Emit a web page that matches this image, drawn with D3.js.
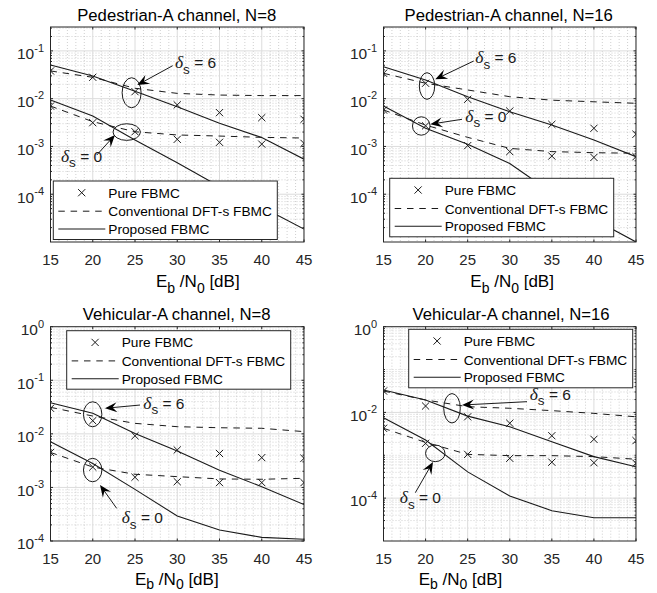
<!DOCTYPE html>
<html lang="en">
<head>
	<meta charset="utf-8">
	<title>ber_fbmc</title>
	<script src="https://cdn.jsdelivr.net/npm/d3@7"></script>
	<style>
		body { margin: 0; background: #fff; }
		svg { display: block; font-family: "Liberation Sans", Arial, sans-serif; }
	</style>
</head>
<body>
<script>
	// Eb/N0 points (dB)
	const snr = [15, 20, 25, 30, 35, 40, 45];
	const xTicks = [15, 20, 25, 30, 35, 40, 45];

	// Pedestrian-A, N=8
	const pa8Pure6 = [0.038, 0.028, 0.014, 0.0074, 0.0051, 0.0040, 0.0037];
	const pa8Conv6 = [0.038, 0.028, 0.0165, 0.0129, 0.0119, 0.0116, 0.0116];
	const pa8Prop6 = [0.0507, 0.0298, 0.0143, 0.0068, 0.00305, 0.00154, 0.00054];
	const pa8Pure0 = [0.0070, 0.00314, 0.00203, 0.00141, 0.00122, 0.00112, 0.00116];
	const pa8Conv0 = [0.0070, 0.0033, 0.00203, 0.00174, 0.00165, 0.00155, 0.0015];
	const pa8Prop0 = [0.0094, 0.00434, 0.00136, 0.000457, 0.000145, 0.000054, 0.0000186];

	// Pedestrian-A, N=16
	const pa16Pure6 = [0.034, 0.021, 0.0097, 0.0055, 0.0029, 0.0024, 0.0018];
	const pa16Conv6 = [0.034, 0.021, 0.0152, 0.011, 0.0093, 0.0086, 0.0080];
	const pa16Prop6 = [0.0467, 0.0245, 0.011, 0.0053, 0.0028, 0.00136, 0.00061];
	const pa16Pure0 = [0.0058, 0.0027, 0.00104, 0.00078, 0.00063, 0.00059, 0.00061];
	const pa16Conv0 = [0.0058, 0.0028, 0.00155, 0.00091, 0.00078, 0.00074, 0.00072];
	const pa16Prop0 = [0.0070, 0.0024, 0.00111, 0.00044, 0.000107, 0.00003, 0.00001];

	// Vehicular-A, N=8
	const va8Pure6 = [0.030, 0.0176, 0.0092, 0.0050, 0.0043, 0.0036, 0.0035];
	const va8Conv6 = [0.0313, 0.0215, 0.0157, 0.0136, 0.013, 0.0127, 0.011];
	const va8Prop6 = [0.038, 0.0242, 0.0102, 0.0048, 0.0021, 0.00103, 0.00048];
	const va8Pure0 = [0.0045, 0.0024, 0.00155, 0.00128, 0.00123, 0.00123, 0.00123];
	const va8Conv0 = [0.0045, 0.0024, 0.00176, 0.00159, 0.00144, 0.00142, 0.00148];
	const va8Prop0 = [0.0071, 0.0028, 0.00092, 0.000293, 0.00016, 0.000117, 0.000108];

	// Vehicular-A, N=16
	const va16Pure6 = [0.0316, 0.0141, 0.0079, 0.0056, 0.00286, 0.00236, 0.0022];
	const va16Conv6 = [0.0316, 0.0195, 0.0136, 0.0125, 0.011, 0.0095, 0.0079];
	const va16Prop6 = [0.0334, 0.0195, 0.0082, 0.00464, 0.00208, 0.00093, 0.00054];
	const va16Pure0 = [0.00426, 0.0019, 0.00105, 0.00085, 0.00069, 0.00067, 0.00065];
	const va16Conv0 = [0.00426, 0.0020, 0.00105, 0.00098, 0.00098, 0.00093, 0.00081];
	const va16Prop0 = [0.0075, 0.00228, 0.00041, 0.000112, 0.000051, 0.000035, 0.000035];

	const legendLabels = ["Pure FBMC", "Conventional DFT-s FBMC", "Proposed FBMC"];

	const width = 657;
	const height = 593;
	const ink = "#262626";

	const svg = d3.select("body")
		.append("svg")
		.attr("width", width)
		.attr("height", height);

	const panels = [
		{
			title: "Pedestrian-A channel, N=8",
			box: [50.5, 27, 304, 242],
			yDomain: [1e-5, Math.pow(10, -0.5)],
			yLabels: [-1, -2, -3, -4],
			pure: [pa8Pure6, pa8Pure0], conv: [pa8Conv6, pa8Conv0], prop: [pa8Prop6, pa8Prop0],
			legend: [53.3, 181],
			titleX: 176.7, xlabelX: 156, xlabelGap: 45, subShift: 6,
			notes: [
				{ s: "6", c: [24.6, 0.0133], rx: 9.5, ry: 15, from: [29.46, 0.049], to: [25.27, 0.0193], text: [29.73, 0.0438] },
				{ s: "0", c: [24.02, 0.0020], rx: 13.7, ry: 8.3, from: [20.47, 0.00066], to: [22.63, 0.00174], text: [16.24, 0.00048] }
			]
		},
		{
			title: "Pedestrian-A channel, N=16",
			box: [383.5, 27, 636, 242],
			yDomain: [1e-5, Math.pow(10, -0.5)],
			yLabels: [-1, -2, -3, -4],
			pure: [pa16Pure6, pa16Pure0], conv: [pa16Conv6, pa16Conv0], prop: [pa16Prop6, pa16Prop0],
			legend: [389.7, 178.3],
			titleX: 508.7, xlabelX: 470.3, xlabelGap: 45, subShift: 6,
			notes: [
				{ s: "6", c: [20.17, 0.0184], rx: 7.7, ry: 13.3, from: [25.72, 0.0614], to: [21.15, 0.0254], text: [25.9, 0.0557] },
				{ s: "0", c: [19.49, 0.00268], rx: 8.8, ry: 9.2, from: [24.33, 0.0037], to: [20.56, 0.00292], text: [24.72, 0.0033] }
			]
		},
		{
			title: "Vehicular-A channel, N=8",
			box: [50.5, 326.7, 304, 541],
			yDomain: [1e-4, 1],
			yLabels: [0, -1, -2, -3, -4],
			pure: [va8Pure6, va8Pure0], conv: [va8Conv6, va8Conv0], prop: [va8Prop6, va8Prop0],
			legend: [66.7, 330.7],
			titleX: 176.7, xlabelX: 135, xlabelGap: 43.5, subShift: 4,
			notes: [
				{ s: "6", c: [19.99, 0.0232], rx: 9.2, ry: 12.5, from: [25.59, 0.0345], to: [21.45, 0.030], text: [25.98, 0.0291] },
				{ s: "0", c: [19.99, 0.00211], rx: 9.2, ry: 11.7, from: [22.83, 0.000407], to: [20.86, 0.00111], text: [23.43, 0.000214] }
			]
		},
		{
			title: "Vehicular-A channel, N=16",
			box: [383.5, 326.7, 636, 541],
			yDomain: [1e-5, 1],
			yLabels: [0, -2, -4],
			pure: [va16Pure6, va16Pure0], conv: [va16Conv6, va16Conv0], prop: [va16Prop6, va16Prop0],
			legend: [408.7, 329.3],
			titleX: 511, xlabelX: 418.7, xlabelGap: 43.5, subShift: 4,
			notes: [
				{ s: "6", c: [23.14, 0.0125], rx: 8.3, ry: 14.7, from: [32.05, 0.0178], to: [24.33, 0.0149], text: [32.37, 0.0195] },
				{ s: "0", c: [21.15, 0.00111], rx: 9.7, ry: 8.3, from: [18.78, 0.000134], to: [20.88, 0.000697], text: [16.93, 0.000076] }
			]
		}
	];

	panels.forEach(drawPanel);

	function drawPanel(p) {
		const [x0, y0, x1, y1] = p.box;
		const x = d3.scaleLinear().domain([15, 45]).range([x0, x1]);
		const y = d3.scaleLog().domain(p.yDomain).range([y1, y0]);
		const g = svg.append("g");

		const clipId = "clip" + Math.round(x0) + "_" + Math.round(y0);
		g.append("clipPath").attr("id", clipId)
			.append("rect").attr("x", x0).attr("y", y0).attr("width", x1 - x0).attr("height", y1 - y0);

		// decades in range
		const lo = Math.round(Math.log10(p.yDomain[0]));
		const hi = Math.ceil(Math.log10(p.yDomain[1]));
		const minorY = [];
		const majorY = [];
		for (let e = lo; e <= hi; e++) {
			if (p.yLabels.includes(e)) majorY.push(Math.pow(10, e));
			else if (Math.pow(10, e) <= p.yDomain[1] && Math.pow(10, e) > p.yDomain[0]) minorY.push(Math.pow(10, e));
			for (let k = 2; k <= 9; k++) {
				const v = k * Math.pow(10, e);
				if (v > p.yDomain[0] && v < p.yDomain[1]) minorY.push(v);
			}
		}
		const minorX = d3.range(16, 45).filter(v => v % 5 !== 0);

		// minor grid
		const grid = g.append("g").attr("clip-path", `url(#${clipId})`);
		grid.selectAll(".my").data(minorY).join("line")
			.attr("x1", x0).attr("x2", x1)
			.attr("y1", d => y(d)).attr("y2", d => y(d))
			.attr("stroke", "#c4c4c4").attr("stroke-width", 0.8).attr("stroke-dasharray", "1,2");
		grid.selectAll(".mx").data(minorX).join("line")
			.attr("y1", y0).attr("y2", y1)
			.attr("x1", d => x(d)).attr("x2", d => x(d))
			.attr("stroke", "#c4c4c4").attr("stroke-width", 0.8).attr("stroke-dasharray", "1,2");
		// major grid
		grid.selectAll(".gy").data(majorY).join("line")
			.attr("x1", x0).attr("x2", x1)
			.attr("y1", d => y(d)).attr("y2", d => y(d))
			.attr("stroke", "#dcdcdc").attr("stroke-width", 1);
		grid.selectAll(".gx").data(xTicks).join("line")
			.attr("y1", y0).attr("y2", y1)
			.attr("x1", d => x(d)).attr("x2", d => x(d))
			.attr("stroke", "#dcdcdc").attr("stroke-width", 1);

		// curves
		const plot = g.append("g").attr("clip-path", `url(#${clipId})`);
		const line = d3.line().x((d, i) => x(snr[i])).y(d => y(d));
		p.conv.forEach(s => {
			plot.append("path").attr("d", line(s))
				.attr("fill", "none").attr("stroke", "#1a1a1a").attr("stroke-width", 1)
				.attr("stroke-dasharray", "6.5,5.8");
		});
		p.prop.forEach(s => {
			plot.append("path").attr("d", line(s))
				.attr("fill", "none").attr("stroke", "#1a1a1a").attr("stroke-width", 1.1);
		});
		p.pure.forEach(s => {
			plot.selectAll(null).data(s).join("path")
				.attr("d", (d, i) => cross(x(snr[i]), y(d), 3.6))
				.attr("stroke", "#1a1a1a").attr("stroke-width", 1).attr("fill", "none");
		});

		// annotations
		p.notes.forEach(n => {
			const ag = g.append("g");
			ag.append("ellipse")
				.attr("cx", x(n.c[0])).attr("cy", y(n.c[1]))
				.attr("rx", n.rx).attr("ry", n.ry)
				.attr("fill", "none").attr("stroke", "#1a1a1a").attr("stroke-width", 1);
			const ax = x(n.from[0]), ay = y(n.from[1]);
			const bx = x(n.to[0]), by = y(n.to[1]);
			const ang = Math.atan2(by - ay, bx - ax);
			ag.append("line")
				.attr("x1", ax).attr("y1", ay)
				.attr("x2", bx - 7 * Math.cos(ang)).attr("y2", by - 7 * Math.sin(ang))
				.attr("stroke", "#1a1a1a").attr("stroke-width", 1);
			ag.append("path")
				.attr("d", "M0,0 L-12,-5 L-7.5,0 L-12,5 Z")
				.attr("transform", `translate(${bx},${by}) rotate(${ang * 180 / Math.PI})`)
				.attr("fill", "#000");
			const t = ag.append("text")
				.attr("x", x(n.text[0])).attr("y", y(n.text[1]))
				.attr("font-size", 15.5).attr("fill", "#1a1a1a");
			t.append("tspan")
				.attr("font-family", "'Liberation Serif', 'Times New Roman', serif")
				.attr("font-style", "italic").attr("font-size", 17.5).text("δ");
			t.append("tspan").attr("dy", 5.5).attr("font-size", 13.5).text("s");
			t.append("tspan").attr("dy", -5.5).text(" = " + n.s);
		});

		// legend
		const [lx, ly] = p.legend;
		const lg = g.append("g");
		lg.append("rect")
			.attr("x", lx).attr("y", ly).attr("width", 224).attr("height", 58.5)
			.attr("fill", "#fff").attr("stroke", ink).attr("stroke-width", 1);
		const rowY = [ly + 11.7, ly + 30.2, ly + 48];
		lg.append("path").attr("d", cross(lx + 28.4, rowY[0], 3.6))
			.attr("stroke", "#1a1a1a").attr("stroke-width", 1).attr("fill", "none");
		lg.append("line").attr("x1", lx + 5).attr("x2", lx + 52).attr("y1", rowY[1]).attr("y2", rowY[1])
			.attr("stroke", "#1a1a1a").attr("stroke-width", 1).attr("stroke-dasharray", "6.5,5.8");
		lg.append("line").attr("x1", lx + 5).attr("x2", lx + 52).attr("y1", rowY[2]).attr("y2", rowY[2])
			.attr("stroke", "#1a1a1a").attr("stroke-width", 1.1);
		lg.selectAll("text").data(legendLabels).join("text")
			.attr("x", lx + 55).attr("y", (d, i) => rowY[i] + 5)
			.attr("font-size", 13.7).attr("fill", "#000")
			.text(d => d);

		// frame
		g.append("rect")
			.attr("x", x0).attr("y", y0).attr("width", x1 - x0).attr("height", y1 - y0)
			.attr("fill", "none").attr("stroke", ink).attr("stroke-width", 1);

		// ticks, inside on all four sides
		const tk = g.append("g").attr("stroke", ink).attr("stroke-width", 1);
		xTicks.forEach(v => {
			tk.append("line").attr("x1", x(v)).attr("x2", x(v)).attr("y1", y1).attr("y2", y1 - 2.5);
			tk.append("line").attr("x1", x(v)).attr("x2", x(v)).attr("y1", y0).attr("y2", y0 + 2.5);
		});
		majorY.forEach(v => {
			tk.append("line").attr("x1", x0).attr("x2", x0 + 2.5).attr("y1", y(v)).attr("y2", y(v));
			tk.append("line").attr("x1", x1).attr("x2", x1 - 2.5).attr("y1", y(v)).attr("y2", y(v));
		});
		minorY.forEach(v => {
			tk.append("line").attr("x1", x0).attr("x2", x0 + 1.5).attr("y1", y(v)).attr("y2", y(v));
			tk.append("line").attr("x1", x1).attr("x2", x1 - 1.5).attr("y1", y(v)).attr("y2", y(v));
		});

		// tick labels
		g.selectAll(".xl").data(xTicks).join("text")
			.attr("x", d => x(d)).attr("y", y1 + 23)
			.attr("text-anchor", "middle").attr("font-size", 15).attr("fill", ink)
			.text(d => d);
		p.yLabels.forEach(e => {
			const t = g.append("text")
				.attr("x", x0 - 6.5).attr("y", y(Math.pow(10, e)) + 8.3)
				.attr("text-anchor", "end").attr("font-size", 15.5).attr("fill", ink);
			t.append("tspan").text("10");
			t.append("tspan").attr("dy", -7.5).attr("font-size", 11).text(String(e));
		});

		// title and x label
		g.append("text")
			.attr("x", p.titleX).attr("y", y0 - 6.3)
			.attr("text-anchor", "middle").attr("font-size", 16.7).attr("fill", "#000")
			.text(p.title);
		const xl = g.append("text")
			.attr("x", p.xlabelX).attr("y", y1 + p.xlabelGap)
			.attr("font-size", 17).attr("fill", "#000");
		const sh = p.subShift;
		xl.append("tspan").text("E");
		xl.append("tspan").attr("dy", sh).attr("font-size", 14).text("b");
		xl.append("tspan").attr("dy", -sh).text(" /N");
		xl.append("tspan").attr("dy", sh).attr("font-size", 14).text("0");
		xl.append("tspan").attr("dy", -sh).text(" [dB]");
	}

	function cross(cx, cy, r) {
		return `M${cx - r},${cy - r}L${cx + r},${cy + r}M${cx - r},${cy + r}L${cx + r},${cy - r}`;
	}
</script>
</body>
</html>
